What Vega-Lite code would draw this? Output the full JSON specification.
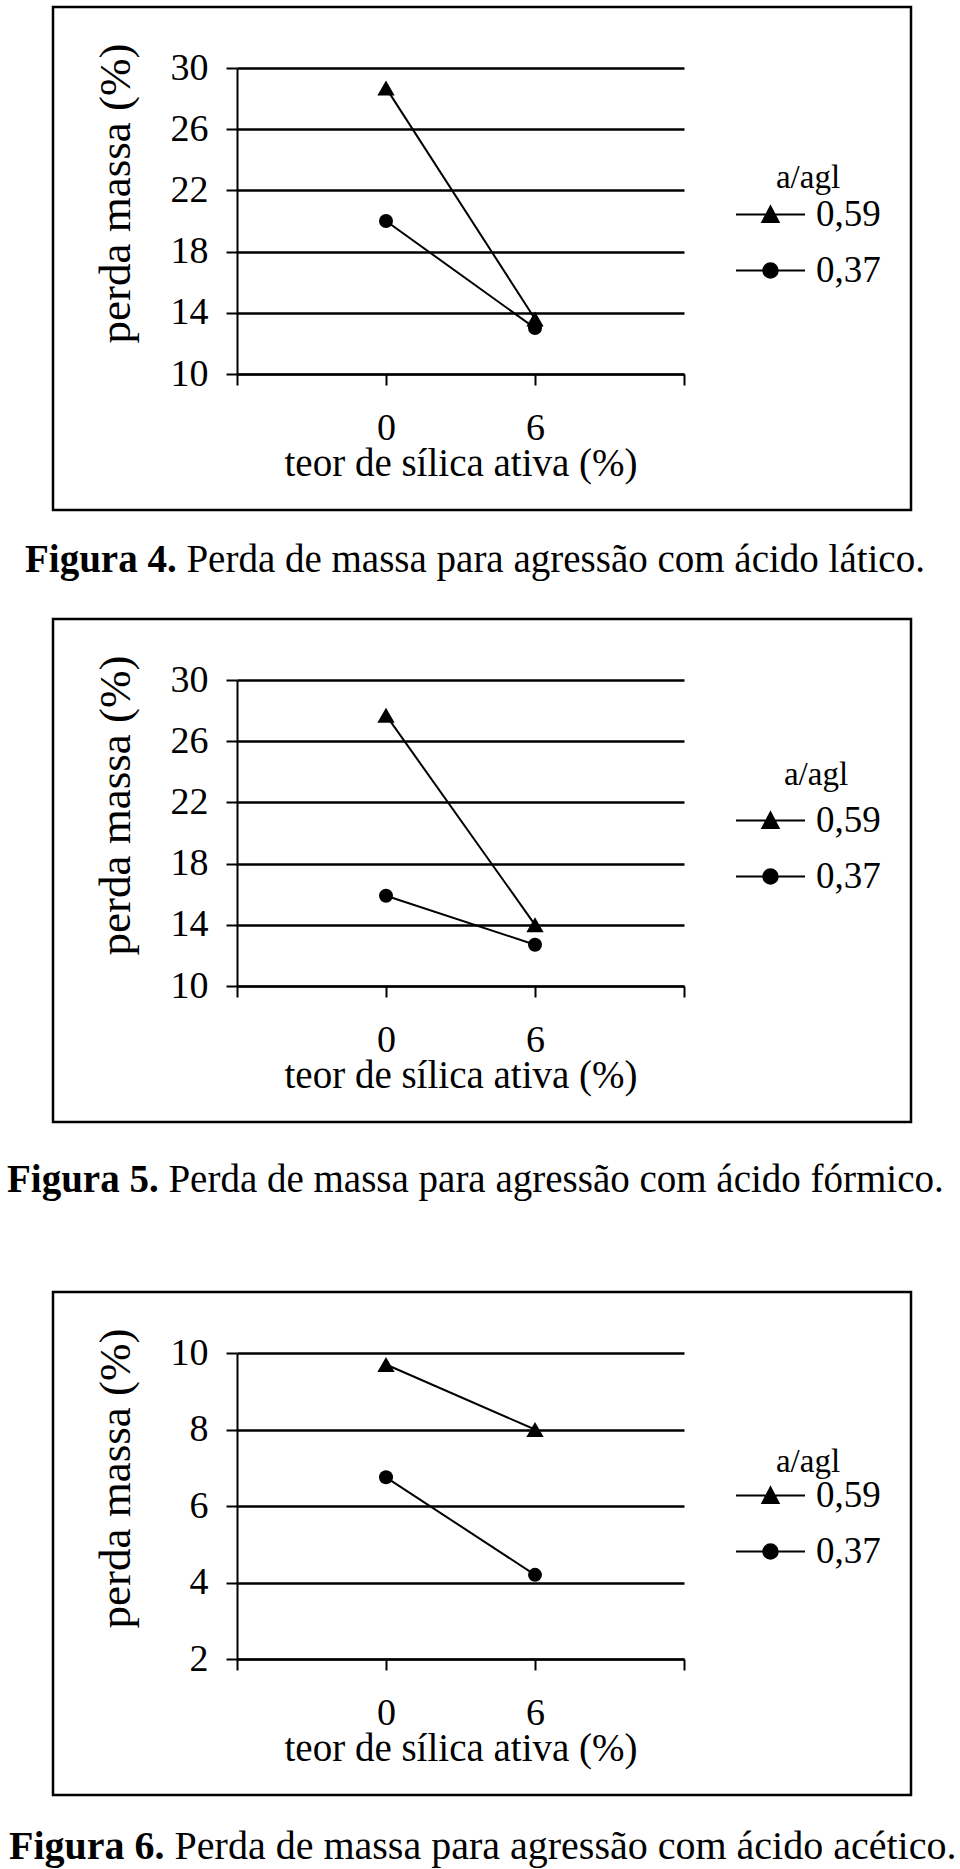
{
  "$schema": "https://vega.github.io/schema/vega-lite/v6.json",
  "autosize": "pad",
  "padding": {"left": 5, "top": 5, "right": 0, "bottom": 0},
  "background": "white",
  "config": {
    "view": {"stroke": "black", "strokeWidth": 2.5},
    "font": "Liberation Serif",
    "axis": {"domainColor": "black", "domainWidth": 2, "tickColor": "black", "tickWidth": 2, "gridColor": "black", "gridWidth": 2.5, "gridOpacity": 1, "labelFont": "Liberation Serif", "labelFontSize": 38, "labelColor": "black", "titleFont": "Liberation Serif", "titleColor": "black", "titleFontWeight": "normal", "labelOverlap": false, "labelFlush": false},
    "legend": {"orient": "none", "titleFont": "Liberation Serif", "titleFontSize": 33, "titleFontWeight": "normal", "titleColor": "black", "titleAnchor": "middle", "labelFont": "Liberation Serif", "labelFontSize": 37, "labelColor": "black", "symbolSize": 1190, "symbolStrokeWidth": 2, "symbolStrokeColor": "black", "symbolFillColor": "black", "symbolOpacity": 1, "labelOffset": 27, "rowPadding": 18, "padding": 0},
    "title": {"font": "Liberation Serif", "fontSize": 39, "fontWeight": "bold", "color": "black", "subtitleFont": "Liberation Serif", "subtitleFontSize": 39, "subtitleFontWeight": "normal", "subtitleColor": "black", "orient": "bottom", "anchor": "start", "subtitlePadding": -39}
  },
  "vconcat": [
    {
      "bounds": "flush",
      "spacing": 109,
      "resolve": {"scale": {"shape": "independent"}, "legend": {"shape": "independent"}},
      "vconcat": [
        {
          "width": 858, "height": 503,
          "title": {"text": "Figura 4.", "subtitle": "Perda de massa para agressão com ácido lático.", "dx": -28, "offset": 31, "encode": {"subtitle": {"update": {"dx": {"value": 133.4}}}}},
          "data": {"values": [
            {"silica": 0, "perda": 28.7, "agl": "0,59"},
            {"silica": 6, "perda": 13.6, "agl": "0,59"},
            {"silica": 0, "perda": 20.0, "agl": "0,37"},
            {"silica": 6, "perda": 13.0, "agl": "0,37"}
          ]},
          "encoding": {
            "x": {"field": "silica", "type": "quantitative", "scale": {"domain": [-6, 12], "range": [184, 631], "nice": false, "zero": false},
              "axis": {"orient": "bottom", "offset": -136, "values": [-6, 0, 6, 12], "labelExpr": "datum.value == 0 || datum.value == 6 ? datum.label : ''", "grid": false, "tickSize": 11, "labelPadding": 54, "labelBaseline": "alphabetic", "title": "teor de sílica ativa (%)", "titleFontSize": 39, "titleY": 101, "titleBaseline": "alphabetic"}},
            "y": {"field": "perda", "type": "quantitative", "scale": {"domain": [10, 30], "range": [367, 61], "nice": false, "zero": false},
              "axis": {"orient": "left", "offset": -184, "values": [10, 14, 18, 22, 26, 30], "grid": true, "tickSize": 11, "labelPadding": 18, "title": "perda massa (%)", "titleFontSize": 45, "titleX": -108, "titleY": 186, "titleBaseline": "alphabetic", "titleAlign": "center", "titleAngle": 270}}
          },
          "resolve": {"scale": {"shape": "independent"}, "legend": {"shape": "independent"}},
          "layer": [
            {"mark": {"type": "line", "color": "black", "strokeWidth": 2}, "encoding": {"detail": {"field": "agl"}}},
            {"mark": {"type": "point", "filled": true, "color": "black", "opacity": 1},
             "encoding": {
               "shape": {"field": "agl", "type": "nominal", "scale": {"domain": ["0,59", "0,37"], "range": ["triangle-up", "circle"]}, "legend": null},
               "size": {"condition": {"test": "datum.agl == '0,59'", "value": 300}, "value": 196}
             }},
            {"transform": [{"filter": "false"}],
             "mark": {"type": "point", "filled": true, "fill": "black", "stroke": "black", "strokeWidth": 2, "opacity": 1},
             "encoding": {
               "shape": {"field": "agl", "type": "nominal", "scale": {"domain": ["0,59", "0,37"], "range": ["M-2,0H2M0,-0.47L0.47,0.43L-0.47,0.43Z", "M-2,0H2M-0.42,0A0.42,0.42,0,1,0,0.42,0A0.42,0.42,0,1,0,-0.42,0Z"]},
                 "legend": {"title": "a/agl", "legendX": 699, "legendY": 155, "titlePadding": 1,
                   "encoding": {"symbols": {"stroke": {"value": "black"}, "strokeWidth": {"value": 2}, "fill": {"value": "black"}, "opacity": {"value": 1}}, "title": {"dx": {"value": -8}}}}}
             }}
          ]
        },
        {
          "width": 858, "height": 503,
          "title": {"text": "Figura 5.", "subtitle": "Perda de massa para agressão com ácido fórmico.", "dx": -46, "offset": 39, "encode": {"subtitle": {"update": {"dx": {"value": 115.4}}}}},
          "data": {"values": [
            {"silica": 0, "perda": 27.7, "agl": "0,59"},
            {"silica": 6, "perda": 14.0, "agl": "0,59"},
            {"silica": 0, "perda": 15.9, "agl": "0,37"},
            {"silica": 6, "perda": 12.7, "agl": "0,37"}
          ]},
          "encoding": {
            "x": {"field": "silica", "type": "quantitative", "scale": {"domain": [-6, 12], "range": [184, 631], "nice": false, "zero": false},
              "axis": {"orient": "bottom", "offset": -136, "values": [-6, 0, 6, 12], "labelExpr": "datum.value == 0 || datum.value == 6 ? datum.label : ''", "grid": false, "tickSize": 11, "labelPadding": 54, "labelBaseline": "alphabetic", "title": "teor de sílica ativa (%)", "titleFontSize": 39, "titleY": 101, "titleBaseline": "alphabetic"}},
            "y": {"field": "perda", "type": "quantitative", "scale": {"domain": [10, 30], "range": [367, 61], "nice": false, "zero": false},
              "axis": {"orient": "left", "offset": -184, "values": [10, 14, 18, 22, 26, 30], "grid": true, "tickSize": 11, "labelPadding": 18, "title": "perda massa (%)", "titleFontSize": 45, "titleX": -108, "titleY": 186, "titleBaseline": "alphabetic", "titleAlign": "center", "titleAngle": 270}}
          },
          "resolve": {"scale": {"shape": "independent"}, "legend": {"shape": "independent"}},
          "layer": [
            {"mark": {"type": "line", "color": "black", "strokeWidth": 2}, "encoding": {"detail": {"field": "agl"}}},
            {"mark": {"type": "point", "filled": true, "color": "black", "opacity": 1},
             "encoding": {
               "shape": {"field": "agl", "type": "nominal", "scale": {"domain": ["0,59", "0,37"], "range": ["triangle-up", "circle"]}, "legend": null},
               "size": {"condition": {"test": "datum.agl == '0,59'", "value": 300}, "value": 196}
             }},
            {"transform": [{"filter": "false"}],
             "mark": {"type": "point", "filled": true, "fill": "black", "stroke": "black", "strokeWidth": 2, "opacity": 1},
             "encoding": {
               "shape": {"field": "agl", "type": "nominal", "scale": {"domain": ["0,59", "0,37"], "range": ["M-2,0H2M0,-0.47L0.47,0.43L-0.47,0.43Z", "M-2,0H2M-0.42,0A0.42,0.42,0,1,0,0.42,0A0.42,0.42,0,1,0,-0.42,0Z"]},
                 "legend": {"title": "a/agl", "legendX": 699, "legendY": 140, "titlePadding": 10,
                   "encoding": {"symbols": {"stroke": {"value": "black"}, "strokeWidth": {"value": 2}, "fill": {"value": "black"}, "opacity": {"value": 1}}}}}
             }}
          ]
        }
      ]
    },
    {
      "width": 858, "height": 503,
      "title": {"text": "Figura 6.", "subtitle": "Perda de massa para agressão com ácido acético.", "dx": -44, "offset": 32, "fontSize": 40, "subtitleFontSize": 40, "subtitlePadding": -40, "encode": {"subtitle": {"update": {"dx": {"value": 121.6}}}}},
      "data": {"values": [
        {"silica": 0, "perda": 9.7, "agl": "0,59"},
        {"silica": 6, "perda": 8.0, "agl": "0,59"},
        {"silica": 0, "perda": 6.75, "agl": "0,37"},
        {"silica": 6, "perda": 4.2, "agl": "0,37"}
      ]},
      "encoding": {
        "x": {"field": "silica", "type": "quantitative", "scale": {"domain": [-6, 12], "range": [184, 631], "nice": false, "zero": false},
          "axis": {"orient": "bottom", "offset": -136, "values": [-6, 0, 6, 12], "labelExpr": "datum.value == 0 || datum.value == 6 ? datum.label : ''", "grid": false, "tickSize": 11, "labelPadding": 54, "labelBaseline": "alphabetic", "title": "teor de sílica ativa (%)", "titleFontSize": 39, "titleY": 101, "titleBaseline": "alphabetic"}},
        "y": {"field": "perda", "type": "quantitative", "scale": {"domain": [2, 10], "range": [367, 61], "nice": false, "zero": false},
          "axis": {"orient": "left", "offset": -184, "values": [2, 4, 6, 8, 10], "grid": true, "tickSize": 11, "labelPadding": 18, "title": "perda massa (%)", "titleFontSize": 45, "titleX": -108, "titleY": 186, "titleBaseline": "alphabetic", "titleAlign": "center", "titleAngle": 270}}
      },
      "resolve": {"scale": {"shape": "independent"}, "legend": {"shape": "independent"}},
      "layer": [
        {"mark": {"type": "line", "color": "black", "strokeWidth": 2}, "encoding": {"detail": {"field": "agl"}}},
        {"mark": {"type": "point", "filled": true, "color": "black", "opacity": 1},
         "encoding": {
           "shape": {"field": "agl", "type": "nominal", "scale": {"domain": ["0,59", "0,37"], "range": ["triangle-up", "circle"]}, "legend": null},
           "size": {"condition": {"test": "datum.agl == '0,59'", "value": 300}, "value": 196}
         }},
        {"transform": [{"filter": "false"}],
         "mark": {"type": "point", "filled": true, "fill": "black", "stroke": "black", "strokeWidth": 2, "opacity": 1},
         "encoding": {
           "shape": {"field": "agl", "type": "nominal", "scale": {"domain": ["0,59", "0,37"], "range": ["M-2,0H2M0,-0.47L0.47,0.43L-0.47,0.43Z", "M-2,0H2M-0.42,0A0.42,0.42,0,1,0,0.42,0A0.42,0.42,0,1,0,-0.42,0Z"]},
             "legend": {"title": "a/agl", "legendX": 699, "legendY": 154, "titlePadding": -2,
               "encoding": {"symbols": {"stroke": {"value": "black"}, "strokeWidth": {"value": 2}, "fill": {"value": "black"}, "opacity": {"value": 1}}, "title": {"dx": {"value": -8}}}}}
         }}
      ]
    }
  ],
  "resolve": {"scale": {"shape": "independent"}, "legend": {"shape": "independent"}},
  "spacing": 88,
  "bounds": "full"
}
